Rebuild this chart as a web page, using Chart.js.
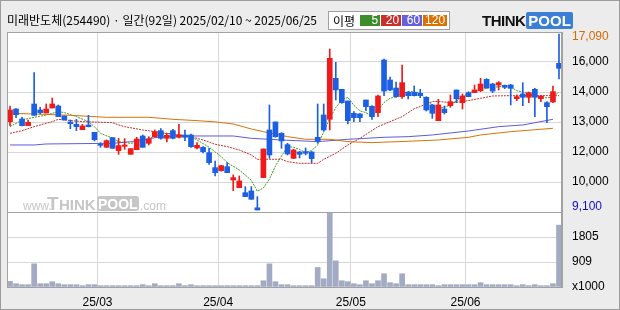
<!DOCTYPE html>
<html>
<head>
<meta charset="utf-8">
<script src="https://cdn.jsdelivr.net/npm/chart.js@4.4.1/dist/chart.umd.min.js"></script>
<style>
  body { margin: 0; background: #ececec; }
  #chart { position: absolute; left: 0; top: 0; }
  #frame { position: absolute; left: 0; top: 0; width: 620px; height: 310px; box-sizing: border-box; border: 1px solid #9c9c9c; pointer-events: none; }
  #title { position: absolute; left: 7px; top: 11px; font: 12px 'Noto Sans CJK KR'; color: #000; white-space: nowrap; }
  #legend { position: absolute; left: 328px; top: 11px; height: 15px; padding: 1px 2px 1px 4px; border: 1px solid #a0a0a0; background: #fff; font: 12px 'Noto Sans CJK KR'; display: flex; align-items: center; }
  #legend span.k { margin-right: 4px; }
  #legend span.b { color: #fff; font: 12px 'Liberation Sans'; height: 11px; line-height: 11px; padding: 0 2px; margin-left: 1px; text-align: right; min-width: 20px; box-sizing: border-box; }
  #logo { position: absolute; left: 482px; top: 12px; font: bold 15px 'Liberation Sans'; white-space: nowrap; }
  #logo .t { color: #111; letter-spacing: -0.5px; }
  #logo .p { color: #fff; background: #3a7fd5; border-radius: 2px; padding: 0 2px; margin-left: 1px; }
</style>
</head>
<body>
<canvas id="chart" width="620" height="310"></canvas>
<div id="title">미래반도체(254490) · 일간(92일) 2025/02/10 ~ 2025/06/25</div>
<div id="legend"><span class="k">이평</span><span class="b" style="background:#3d8d2a">5</span><span class="b" style="background:#c9302c">20</span><span class="b" style="background:#6660dc">60</span><span class="b" style="background:#dc7000">120</span></div>
<div id="logo"><span class="t">THINK</span><span class="p">POOL</span></div>
<div id="frame"></div>
<script>
// daily candles, 2025/02/10 .. 2025/06/25 (92 trading days)
const opens = [13111,13686,13232,12930,13913,13641,13504,13731,13822,13368,
  13096,12990,12748,12960,12627,12067,11946,12385,11795,11991,
  11628,11840,12460,12128,12430,12703,12355,12703,12400,12506,
  12506,11916,11946,11704,11023,10887,11068,10463,10115,9888,
  9964,9200,10569,12733,13096,12582,12067,11447,11734,11749,
  11734,12400,13414,13217,15078,14579,14049,13489,13459,14095,
  13807,13520,15910,15002,14639,14246,14443,14443,14397,14216,
  13868,13156,13686,13837,14548,13973,14427,14427,14518,15033,
  14821,14775,14760,14775,14155,14367,14216,14579,14155,13973,
  14004,15759];
const highs = [13822,13700,13308,13187,15335,13762,13913,14185,13868,13368,
  13187,13217,12990,13399,12627,12158,12280,12385,12355,12340,
  11885,12400,12506,12430,12733,12793,12582,12763,12990,12733,
  12551,12158,11976,11900,11325,11130,11250,10690,10645,10160,
  10160,9707,11870,13868,13100,12610,12128,11860,11760,11916,
  11750,13913,13913,16409,15804,14579,14049,13565,13489,14095,
  13837,14322,15956,15139,14912,15683,14473,14730,14579,14246,
  13898,14125,13822,14322,14548,14367,14473,14775,15078,15063,
  14851,14927,14775,14805,14322,14881,14458,14624,14306,14019,
  14730,17090];
const lows = [12914,13293,12920,12930,13399,13459,13504,13731,13338,13187,
  12793,12702,12748,12870,12233,11946,11946,11900,11628,11855,
  11628,11840,11946,12052,12400,12310,12188,12325,12370,12249,
  11946,11870,11689,11174,10645,10860,10796,9979,10115,9707,
  9586,9100,10569,11447,12400,11900,11598,11430,11462,11598,
  11250,12128,12688,12733,14095,13943,13005,13111,13111,13610,
  13217,13338,14291,14518,14216,14170,14140,14276,14200,13595,
  13262,13156,13459,13762,13973,13686,14246,14427,14473,14624,
  14427,14549,14609,13868,14064,13837,13973,13338,14019,13066,
  13973,15048];
const closes = [13641,13429,12930,13081,13399,13520,13686,13913,13338,13187,
  13020,12884,12914,12884,12294,12037,12249,11900,12022,12052,
  11885,12324,11946,12324,12657,12355,12491,12355,12506,12400,
  11976,12037,11749,11250,10796,11114,10796,10569,10418,9707,
  9586,9100,11870,11598,12430,12234,11644,11825,11628,11674,
  11432,12234,12733,15986,14548,13973,13156,13293,13293,13792,
  13338,14276,14503,14548,14246,14881,14291,14291,14291,13641,
  13489,13868,13520,14019,14155,14276,14246,14548,14821,14654,
  14503,14881,14670,14624,14246,14216,14427,14216,14276,13792,
  14473,15532];
// volume, thousands of shares
const volumes = [206,121,85,85,849,121,121,194,121,85,
  85,85,49,85,85,49,49,49,49,49,
  49,49,85,49,121,49,49,49,121,49,
  85,49,49,49,49,49,49,49,49,49,
  49,49,230,849,194,85,85,49,49,49,
  49,716,303,2720,958,230,194,121,85,230,
  121,230,485,158,121,485,85,85,85,85,
  85,49,85,85,85,85,85,85,158,85,
  85,85,85,85,49,85,49,85,49,49,
  121,2268];

// moving averages: [day index, value]
const ma5 = [[0,12884],[2,13187],[4,13308],[6,13414],[8,13565],[9,13520],[11,13338],[13,13111],[14,12884],[15,12581],
  [17,12355],[18,12203],[20,12128],[22,12203],[23,12355],[25,12551],[26,12581],[28,12506],[30,12430],[31,12279],
  [33,11950],[35,11523],[36,11250],[38,10917],[40,10450],[41,9950],[42,10100],[43,10500],[44,11100],[45,11550],
  [46,11977],[47,11946],[48,11850],[49,11700],[50,11800],[51,12052],[52,12650],[53,13262],[54,13750],[55,14095],
  [56,14216],[57,13850],[58,13600],[59,13520],[60,13368],[61,13641],[62,13980],[63,14170],[64,14246],[65,14400],
  [66,14473],[67,14473],[68,14397],[69,14095],[70,13868],[71,13716],[72,13760],[73,13870],[74,14050],[75,14250],
  [76,14400],[77,14520],[78,14560],[79,14624],[80,14660],[81,14700],[82,14700],[83,14680],[84,14518],[85,14450],
  [86,14397],[87,14300],[88,14246],[89,14185],[90,14240],[91,14458]];
const ma20 = [[0,12581],[2,12700],[4,12884],[7,13111],[8,13217],[9,13190],[12,13111],[17,13066],[18,12960],[19,12884],
  [22,12733],[24,12657],[26,12582],[28,12506],[30,12430],[31,12350],[32,12279],[34,12083],[36,11977],[38,11825],
  [40,11598],[41,11402],[45,11402],[46,11296],[48,11220],[51,11220],[52,11400],[54,11674],[56,12052],[58,12355],
  [61,12884],[63,13111],[65,13340],[67,13700],[68,13800],[70,14019],[71,14030],[73,13973],[75,14019],[78,14170],
  [80,14276],[83,14291],[91,14291]];
const ma60 = [[0,12052],[4,12052],[6,12097],[17,12128],[20,12200],[24,12380],[27,12460],[37,12460],[40,12355],[45,12279],
  [51,12204],[56,12310],[62,12400],[66,12430],[70,12506],[76,12687],[81,12884],[85,12960],[90,13217]];
const ma120 = [[0,13490],[5,13450],[10,13400],[16,13308],[23,13308],[27,13217],[31,13157],[34,13100],[37,13005],[40,12778],
  [42,12657],[46,12430],[49,12310],[53,12310],[56,12204],[60,12158],[66,12220],[71,12279],[76,12400],[78,12506],
  [83,12657],[90,12809]];

const monthStarts = [15, 35, 57, 76];
const monthLabels = ['25/03', '25/04', '25/05', '25/06'];
const priceTickLabels = ['16,000', '14,000', '13,000', '12,000', '10,000'];
const volumeTickLabels = ['x1000', '909', '1805'];

const UP = '#f01a1a', DOWN = '#1d5fe3';
const candleColors = closes.map((c, i) => c >= opens[i] ? UP : DOWN);
const GRID = '#d8d8d8', EDGE = '#a2a2a2';

function pairs(list) { return list.map(p => ({ x: p[0], y: p[1] })); }

const panels = {
  id: 'panels',
  beforeDraw(chart) {
    const { ctx, chartArea: a } = chart;
    ctx.save();
    ctx.fillStyle = '#fff';
    ctx.fillRect(a.left, a.top, a.right - a.left, a.bottom - a.top);
    ctx.restore();
  },
  beforeDatasetsDraw(chart) {
    // faint site watermark in the price panel
    const ctx = chart.ctx;
    const base = chart.scales.y.bottom - 2;
    ctx.save();
    ctx.fillStyle = '#c6c6c6';
    ctx.font = '12px "Liberation Sans"';
    ctx.fillText('www.', 23, base);
    ctx.font = 'bold 19px "Liberation Sans"';
    ctx.fillText('T', 47, base);
    ctx.font = 'bold 15px "Liberation Sans"';
    ctx.fillText('HINK', 59, base);
    ctx.beginPath();
    ctx.roundRect(97, base - 14, 42, 15, 3);
    ctx.fill();
    ctx.fillStyle = '#fff';
    ctx.font = 'bold 14px "Liberation Sans"';
    ctx.fillText('POOL', 98, base - 1);
    ctx.fillStyle = '#c6c6c6';
    ctx.font = '12px "Liberation Sans"';
    ctx.fillText('.com', 140, base);
    ctx.restore();
  },
  afterDraw(chart) {
    const { ctx, chartArea: a, scales } = chart;
    ctx.save();
    ctx.strokeStyle = EDGE;
    ctx.lineWidth = 1;
    ctx.strokeRect(a.left + 0.5, a.top + 0.5, a.right - a.left - 1, a.bottom - a.top);
    ctx.beginPath();
    ctx.moveTo(a.left, Math.round(scales.y.bottom) + 0.5);
    ctx.lineTo(a.right, Math.round(scales.y.bottom) + 0.5);
    ctx.stroke();
    // highest / lowest price labels
    const hi = Math.max(...highs), lo = Math.min(...lows);
    ctx.font = '12px "Liberation Sans"';
    ctx.textBaseline = 'middle';
    ctx.fillStyle = '#d86a00';
    ctx.fillText(hi.toLocaleString('en-US'), a.right + 10, scales.y.getPixelForValue(hi) + 3);
    ctx.fillStyle = '#1010c8';
    ctx.fillText(lo.toLocaleString('en-US'), a.right + 10, scales.y.getPixelForValue(lo) - 3);
    ctx.restore();
  }
};

const maLine = (list, color, dash) => ({
  type: 'line', data: pairs(list), yAxisID: 'y', borderColor: color, borderWidth: 1,
  borderDash: dash, pointRadius: 0, tension: 0, order: 3
});

new Chart(document.getElementById('chart'), {
  type: 'bar',
  data: {
    datasets: [
      maLine(ma120, '#dd7205', []),
      maLine(ma60, '#5f5be0', []),
      maLine(ma20, '#c22e2e', [2, 1]),
      maLine(ma5, '#3c9a1e', [2, 1]),
      {
        data: opens.map((o, i) => ({ x: i, y: [lows[i], highs[i]] })),
        yAxisID: 'y', backgroundColor: candleColors, barThickness: 1, grouped: false, order: 2
      },
      {
        data: opens.map((o, i) => ({ x: i, y: [o, closes[i]] })),
        yAxisID: 'y', backgroundColor: candleColors, barThickness: 5, minBarLength: 1, grouped: false, order: 1
      },
      {
        data: volumes.map((v, i) => ({ x: i, y: v })),
        yAxisID: 'yv', backgroundColor: '#a3abc4', barThickness: 5, grouped: false, order: 1
      }
    ]
  },
  options: {
    responsive: false,
    animation: false,
    devicePixelRatio: 1,
    layout: { padding: { left: 7, top: 32, right: 0, bottom: 0 } },
    plugins: { legend: { display: false }, tooltip: { enabled: false } },
    scales: {
      x: {
        type: 'linear', min: -0.5, max: 91.5, offset: false,
        afterFit: s => { s.height = 23; },
        afterBuildTicks: s => { s.ticks = monthStarts.map(v => ({ value: v - 0.5 })); },
        grid: { color: GRID, drawTicks: false, offset: false },
        border: { color: EDGE },
        ticks: {
          autoSkip: false, maxRotation: 0, padding: 8, color: '#000',
          font: { family: 'Liberation Sans', size: 12 },
          callback: (v, i) => monthLabels[i]
        }
      },
      y: {
        type: 'linear', position: 'right', stack: 'panes', stackWeight: 180,
        min: 9009, max: 17181,
        afterFit: s => { s.width = 58; },
        afterBuildTicks: s => {
          s.ticks = priceTickLabels.map((_, k) => ({ value: s.max - (k + 1) * (s.max - s.min) / 6 }));
        },
        grid: { color: GRID, drawTicks: false },
        border: { color: EDGE },
        ticks: {
          padding: 10, color: '#000', font: { family: 'Liberation Sans', size: 12 },
          callback: (v, i) => priceTickLabels[i]
        }
      },
      yv: {
        type: 'linear', position: 'right', stack: 'panes', stackWeight: 75,
        min: 0, max: 2750,
        afterFit: s => { s.width = 58; },
        afterBuildTicks: s => {
          s.ticks = volumeTickLabels.map((_, k) => ({ value: k * s.max / 3 }));
        },
        grid: { color: c => c.index === 0 ? 'rgba(0,0,0,0)' : GRID, drawTicks: false },
        border: { color: EDGE },
        ticks: {
          padding: 10, color: '#000', font: { family: 'Liberation Sans', size: 12 },
          callback: (v, i) => volumeTickLabels[i]
        }
      }
    }
  },
  plugins: [panels]
});
</script>
</body>
</html>
